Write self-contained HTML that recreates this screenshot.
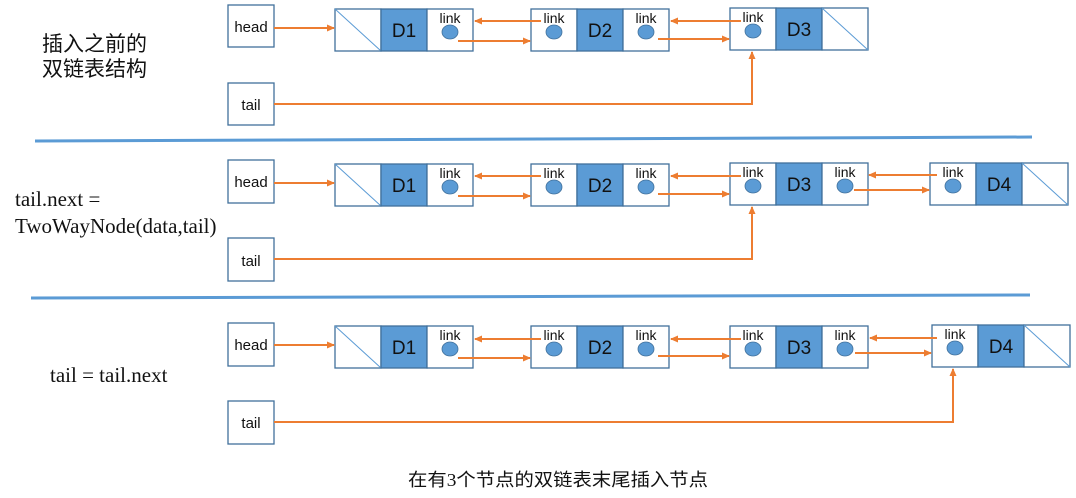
<!DOCTYPE html>
<html><head><meta charset="utf-8"><style>
html,body{margin:0;padding:0;background:#fff;width:1076px;height:498px;overflow:hidden}
svg{display:block}
</style></head><body>
<svg width="1076" height="498" viewBox="0 0 1076 498" xmlns="http://www.w3.org/2000/svg" style="font-family:'Liberation Sans','Noto Sans CJK SC',sans-serif">
<defs>
<marker id="a" markerWidth="8" markerHeight="8" refX="7" refY="4" orient="auto" markerUnits="userSpaceOnUse"><path d="M0,0.5 L8,4 L0,7.5 z" fill="#ED7D31"/></marker>
<g id="link"><rect x="0" y="0" width="46" height="42" fill="#fff" stroke="#41719C" stroke-width="1.3"/><text x="23" y="14" font-size="14" text-anchor="middle" fill="#111">link</text><ellipse cx="23" cy="23" rx="8" ry="7" fill="#5B9BD5" stroke="#41719C" stroke-width="0.8"/></g>
<g id="diag"><rect x="0" y="0" width="46" height="42" fill="#fff" stroke="#41719C" stroke-width="1.3"/><line x1="0" y1="0" x2="46" y2="42" stroke="#5B9BD5" stroke-width="1"/></g>
</defs>
<g fill="#fff" stroke="#41719C" stroke-width="1.3">
<rect x="228" y="5" width="46" height="42"/><rect x="228" y="83" width="46" height="42"/>
<rect x="228" y="160" width="46" height="43"/><rect x="228" y="238" width="46" height="43"/>
<rect x="228" y="323" width="46" height="43"/><rect x="228" y="401" width="46" height="43"/>
</g>
<g font-size="15" text-anchor="middle" fill="#111">
<text x="251" y="32">head</text><text x="251" y="110">tail</text>
<text x="251" y="187">head</text><text x="251" y="266">tail</text>
<text x="251" y="350">head</text><text x="251" y="428">tail</text>
</g>

<g transform="translate(335,9)">
<use href="#diag"/><rect x="46" y="0" width="46" height="42" fill="#5B9BD5" stroke="#41719C" stroke-width="1.3"/><text x="69" y="28" font-size="19" text-anchor="middle" fill="#111">D1</text><use href="#link" x="92"/>
</g>
<g transform="translate(531,9)">
<use href="#link"/><rect x="46" y="0" width="46" height="42" fill="#5B9BD5" stroke="#41719C" stroke-width="1.3"/><text x="69" y="28" font-size="19" text-anchor="middle" fill="#111">D2</text><use href="#link" x="92"/>
</g>
<g transform="translate(730,8)">
<use href="#link"/><rect x="46" y="0" width="46" height="42" fill="#5B9BD5" stroke="#41719C" stroke-width="1.3"/><text x="69" y="28" font-size="19" text-anchor="middle" fill="#111">D3</text><use href="#diag" x="92"/>
</g>

<g transform="translate(335,164)">
<use href="#diag"/><rect x="46" y="0" width="46" height="42" fill="#5B9BD5" stroke="#41719C" stroke-width="1.3"/><text x="69" y="28" font-size="19" text-anchor="middle" fill="#111">D1</text><use href="#link" x="92"/>
</g>
<g transform="translate(531,164)">
<use href="#link"/><rect x="46" y="0" width="46" height="42" fill="#5B9BD5" stroke="#41719C" stroke-width="1.3"/><text x="69" y="28" font-size="19" text-anchor="middle" fill="#111">D2</text><use href="#link" x="92"/>
</g>
<g transform="translate(730,163)">
<use href="#link"/><rect x="46" y="0" width="46" height="42" fill="#5B9BD5" stroke="#41719C" stroke-width="1.3"/><text x="69" y="28" font-size="19" text-anchor="middle" fill="#111">D3</text><use href="#link" x="92"/>
</g>
<g transform="translate(930,163)">
<use href="#link"/><rect x="46" y="0" width="46" height="42" fill="#5B9BD5" stroke="#41719C" stroke-width="1.3"/><text x="69" y="28" font-size="19" text-anchor="middle" fill="#111">D4</text><use href="#diag" x="92"/>
</g>

<g transform="translate(335,326)">
<use href="#diag"/><rect x="46" y="0" width="46" height="42" fill="#5B9BD5" stroke="#41719C" stroke-width="1.3"/><text x="69" y="28" font-size="19" text-anchor="middle" fill="#111">D1</text><use href="#link" x="92"/>
</g>
<g transform="translate(531,326)">
<use href="#link"/><rect x="46" y="0" width="46" height="42" fill="#5B9BD5" stroke="#41719C" stroke-width="1.3"/><text x="69" y="28" font-size="19" text-anchor="middle" fill="#111">D2</text><use href="#link" x="92"/>
</g>
<g transform="translate(730,326)">
<use href="#link"/><rect x="46" y="0" width="46" height="42" fill="#5B9BD5" stroke="#41719C" stroke-width="1.3"/><text x="69" y="28" font-size="19" text-anchor="middle" fill="#111">D3</text><use href="#link" x="92"/>
</g>
<g transform="translate(932,325)">
<use href="#link"/><rect x="46" y="0" width="46" height="42" fill="#5B9BD5" stroke="#41719C" stroke-width="1.3"/><text x="69" y="28" font-size="19" text-anchor="middle" fill="#111">D4</text><use href="#diag" x="92"/>
</g>

<g stroke="#ED7D31" stroke-width="2" fill="none" marker-end="url(#a)">
<line x1="274" y1="28" x2="334" y2="28"/>
<line x1="541" y1="21" x2="475" y2="21"/>
<line x1="458" y1="41" x2="530" y2="41"/>
<line x1="741" y1="21" x2="671" y2="21"/>
<line x1="658" y1="39" x2="729" y2="39"/>
<polyline points="274,104 752,104 752,52"/>

<line x1="274" y1="183" x2="334" y2="183"/>
<line x1="541" y1="176" x2="475" y2="176"/>
<line x1="458" y1="196" x2="530" y2="196"/>
<line x1="741" y1="176" x2="671" y2="176"/>
<line x1="658" y1="194" x2="729" y2="194"/>
<line x1="937" y1="175" x2="869" y2="175"/>
<line x1="854" y1="190" x2="929" y2="190"/>
<polyline points="274,259 752,259 752,207"/>

<line x1="274" y1="345" x2="334" y2="345"/>
<line x1="541" y1="339" x2="475" y2="339"/>
<line x1="458" y1="358" x2="530" y2="358"/>
<line x1="741" y1="339" x2="671" y2="339"/>
<line x1="658" y1="356" x2="729" y2="356"/>
<line x1="937" y1="338" x2="870" y2="338"/>
<line x1="855" y1="353" x2="931" y2="353"/>
<polyline points="274,422 953,422 953,369"/>
</g>

<line x1="35" y1="141" x2="1032" y2="137" stroke="#5B9BD5" stroke-width="3"/>
<line x1="31" y1="298" x2="1030" y2="295" stroke="#5B9BD5" stroke-width="3"/>

<text x="42" y="51" font-size="21" fill="#111" style="font-family:'Noto Sans CJK SC',sans-serif">插入之前的</text>
<text x="42" y="76" font-size="21" fill="#111" style="font-family:'Noto Sans CJK SC',sans-serif">双链表结构</text>
<text x="15" y="206" font-size="21" fill="#111" style="font-family:'Liberation Serif',serif">tail.next =</text>
<text x="15" y="233" font-size="21" fill="#111" style="font-family:'Liberation Serif',serif">TwoWayNode(data,tail)</text>
<text x="50" y="382" font-size="21" fill="#111" style="font-family:'Liberation Serif',serif">tail = tail.next</text>
<text x="408" y="486" font-size="18" fill="#111" textLength="300" lengthAdjust="spacingAndGlyphs" style="font-family:'Liberation Serif','Noto Sans CJK SC',sans-serif">在有3个节点的双链表末尾插入节点</text>
</svg>
</body></html>
